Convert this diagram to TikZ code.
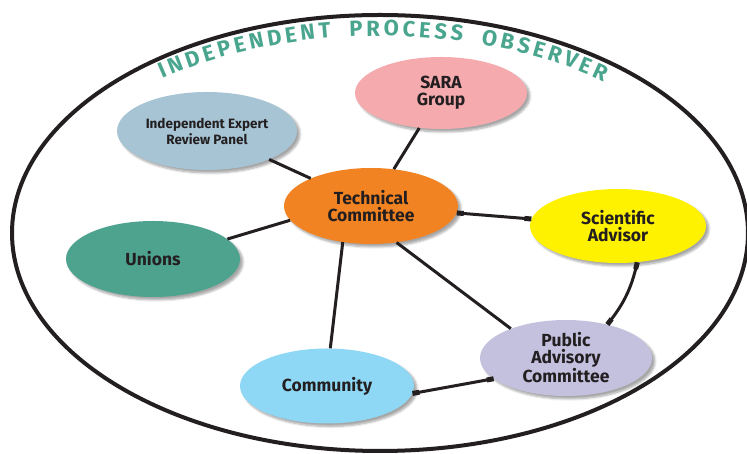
\documentclass[tikz,border=0pt]{standalone}
\usepackage{fontspec}
\setmainfont{Fira Sans}
\usepackage{xcolor}
\usetikzlibrary{shapes.geometric,shadows.blur,decorations.text,arrows.meta}

\definecolor{saracol}{HTML}{F5AAAE}
\definecolor{panelcol}{HTML}{A6C4D4}
\definecolor{techcol}{HTML}{F28322}
\definecolor{scicol}{HTML}{FFF200}
\definecolor{unioncol}{HTML}{4EA38F}
\definecolor{publiccol}{HTML}{C4C1DF}
\definecolor{commcol}{HTML}{8ED8F5}
\definecolor{titlecol}{HTML}{4AA58F}
\definecolor{inkcol}{HTML}{231F20}

\tikzset{
  bubble/.style={ellipse, inner sep=0pt, minimum width=174pt, minimum height=76pt,
    align=center, text=inkcol, font=\bfseries\fontsize{17.5}{17}\selectfont,
    blur shadow={shadow xshift=3pt, shadow yshift=-3pt, shadow blur steps=6, shadow opacity=35}},
  link/.style={draw=inkcol, line width=3pt},
  stub/.style={{Rectangle[length=7pt,width=5pt]}-{Rectangle[length=7pt,width=5pt]}},
}

\begin{document}
\begin{tikzpicture}[x=1pt,y=1pt]
			\useasboundingbox (0,0) rectangle (747,454);
			% outer ring
			\coordinate (ring) at (380,221);
			\draw [inkcol,line width=4pt] (ring) ellipse [x radius=368, y radius=218];
			\path [decorate, decoration={text along path, text align=center,
			  text={|\color{titlecol}\bfseries\fontsize{22}{22}\selectfont|{I\kern3.6pt}{N\kern3.6pt}{D\kern3.6pt}{E\kern3.6pt}{P\kern3.6pt}{E\kern3.6pt}{N\kern3.6pt}{D\kern3.6pt}{E\kern3.6pt}{N\kern3.6pt}{T\kern3.6pt}{\kern15pt}{P\kern3.6pt}{R\kern3.6pt}{O\kern3.6pt}{C\kern3.6pt}{E\kern3.6pt}{S\kern3.6pt}{S\kern3.6pt}{\kern15pt}{O\kern3.6pt}{B\kern3.6pt}{S\kern3.6pt}{E\kern3.6pt}{R\kern3.6pt}{V\kern3.6pt}{E\kern3.6pt}{R}}}]
			  (ring) ++(179:350 and 197) arc [start angle=179, end angle=-1, x radius=350, y radius=197];
			% the bodies
			\node [bubble, fill=saracol, minimum width=172pt, minimum height=72pt] (sara) at (441,361) {SARA\\Group};
			\node [bubble, fill=panelcol, minimum width=180pt, minimum height=78pt, font=\bfseries\fontsize{13.5}{16}\selectfont] (panel) at (207,323) {Independent Expert\\Review Panel};
			\node [bubble, fill=techcol] (tech) at (371,248) {Technical\\Committee};
			\node [bubble, fill=scicol, minimum width=176pt, minimum height=74pt] (sci) at (618,228) {Scientific\\Advisor};
			\node [bubble, fill=unioncol] (unions) at (153,195) {Unions};
			\node [bubble, fill=publiccol, minimum width=172pt] (public) at (566,96) {Public\\Advisory\\Committee};
			\node [bubble, fill=commcol, minimum height=75pt] (comm) at (327,68) {Community};
			% links
			\draw [link] (panel) -- (tech);
			\draw [link] (sara) -- (tech);
			\draw [link] (unions.15) -- (tech.190);
			\draw [link,stub] (tech) -- (sci);
			\draw [link] (tech.-128) -- (comm.85);
			\draw [link] (tech.-55) -- (public.152);
			\draw [link,stub] (sci.-62) to [bend left=12] (public.39);
			\draw [link,stub] (comm.-5) -- (public.-164);
		\end{tikzpicture}
\end{document}
